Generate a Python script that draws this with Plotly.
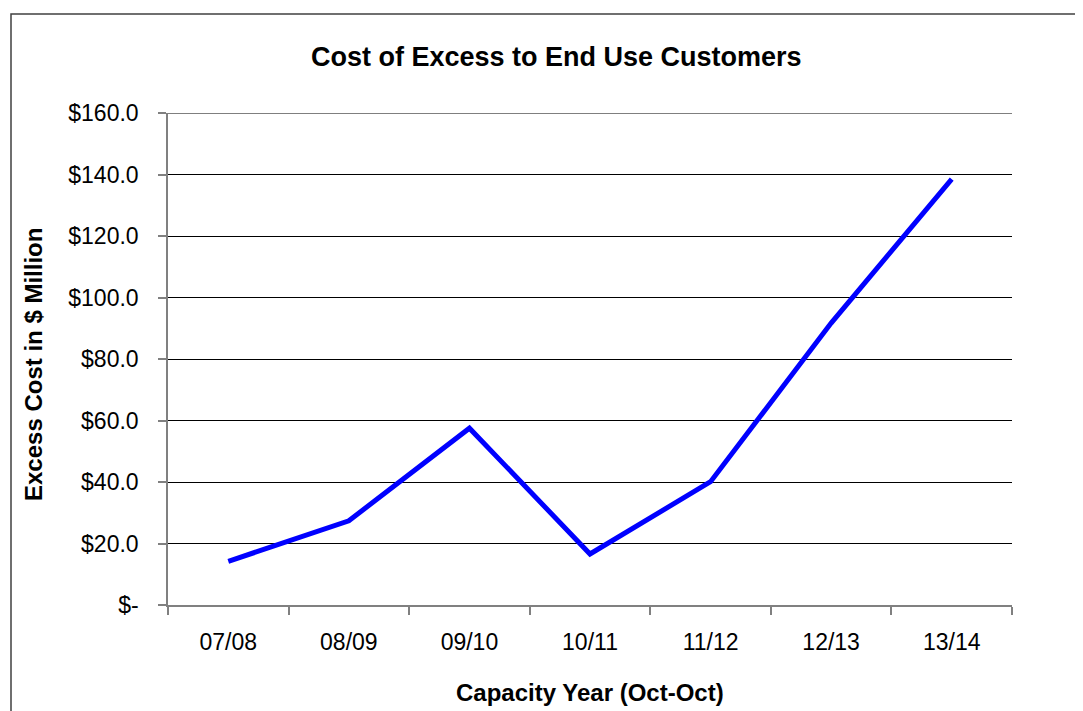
import plotly.graph_objects as go

categories = ["07/08", "08/09", "09/10", "10/11", "11/12", "12/13", "13/14"]
excess_cost = [14.2, 27.4, 57.5, 16.6, 40.1, 91.7, 138.5]
y_tick_vals = [0, 20, 40, 60, 80, 100, 120, 140, 160]
y_tick_text = ["$-", "$20.0", "$40.0", "$60.0", "$80.0", "$100.0", "$120.0", "$140.0", "$160.0"]

# page body has an 8px margin, so the figure is offset by 8px
OFF = 8
W, H = 1083 - OFF, 711 - OFF
L, R, T, B = 168 - OFF, 71, 113 - OFF, 106
pw, ph = W - L - R, H - T - B

def px(x):
    return (x - OFF - L) / pw

def py(y):
    return (H - B - (y - OFF)) / ph

font = "Liberation Sans, Arial, sans-serif"

fig = go.Figure()
fig.add_trace(go.Scatter(
    x=categories, y=excess_cost, mode="lines",
    line=dict(color="#0000FF", width=5),
    showlegend=False, hoverinfo="x+y",
))

fig.update_layout(
    width=W, height=H,
    margin=dict(l=L, r=R, t=T, b=B, pad=0),
    paper_bgcolor="white", plot_bgcolor="white",
    font=dict(family=font, color="black", size=23),
    xaxis=dict(
        type="category", range=[-0.5, 6.5],
        showgrid=False, zeroline=False,
        showline=True, linecolor="#808080", linewidth=1.5,
        ticks="outside", ticklen=8, tickcolor="#808080", tickwidth=1.5,
        tickson="boundaries", ticklabelstandoff=16,
        tickfont=dict(size=23, family=font),
    ),
    yaxis=dict(
        range=[0, 160], tickvals=y_tick_vals, ticktext=y_tick_text,
        showgrid=True, gridcolor="#000000", gridwidth=1,
        zeroline=False,
        showline=True, linecolor="#808080", linewidth=1.5,
        ticks="outside", ticklen=8, tickcolor="#808080", tickwidth=1.5,
        ticklabelstandoff=15,
        tickfont=dict(size=23, family=font),
    ),
    annotations=[
        dict(text="<b>Cost of Excess to End Use Customers</b>", x=px(556), y=py(57),
             xref="paper", yref="paper", xanchor="center", yanchor="middle",
             showarrow=False, font=dict(size=27, family=font)),
        dict(text="<b>Excess Cost in $ Million</b>", x=px(33), y=py(365),
             xref="paper", yref="paper", xanchor="center", yanchor="middle",
             textangle=-90, showarrow=False, font=dict(size=24, family=font)),
        dict(text="<b>Capacity Year (Oct-Oct)</b>", x=px(590), y=py(692),
             xref="paper", yref="paper", xanchor="center", yanchor="middle",
             showarrow=False, font=dict(size=24, family=font)),
    ],
    shapes=[
        dict(type="rect", xref="paper", yref="paper",
             x0=px(11), x1=px(1095), y0=py(725), y1=py(14),
             line=dict(color="#404040", width=1.5), layer="below"),
        dict(type="line", xref="paper", yref="y",
             x0=0, x1=1, y0=y_tick_vals[-1], y1=y_tick_vals[-1],
             line=dict(color="#000000", width=1)),
    ],
)

fig.write_html("out.html")
